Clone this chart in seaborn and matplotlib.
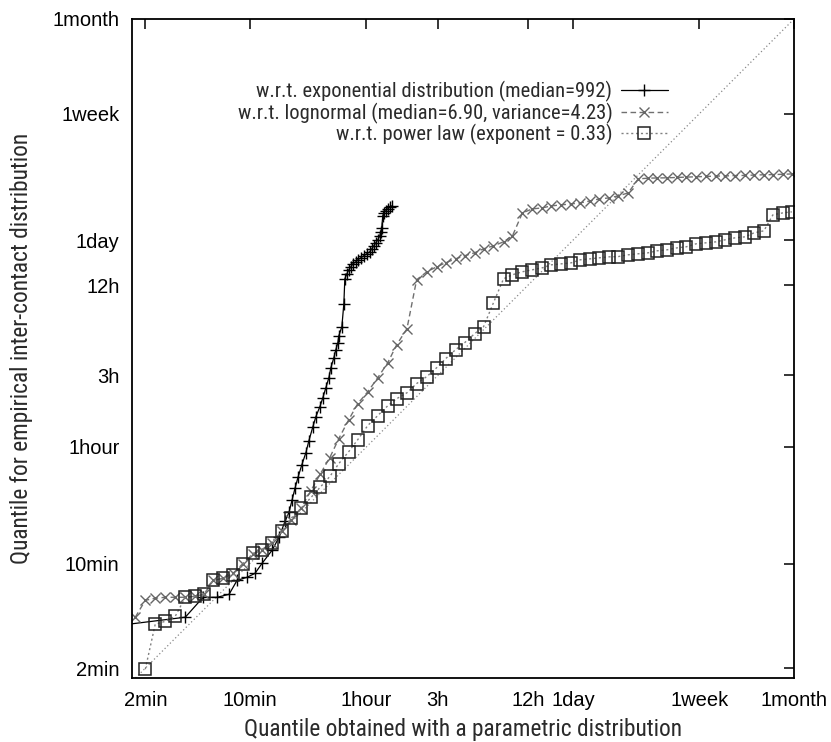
import os
import matplotlib
matplotlib.use("Agg")
import matplotlib.pyplot as plt
from matplotlib import font_manager
import seaborn as sns
import pandas as pd

# Quantiles in minutes
param_q = [1.715, 2.00, 2.33, 2.72, 3.17, 3.70, 4.31, 4.95, 5.68, 6.62, 7.72, 9.00,
           10.5, 12.05, 14.05, 16.4, 18.8, 21.9, 25.6, 29.4, 34.2, 39.3, 45.8, 52.6,
           61.3, 71.5, 83.4, 95.7, 112, 130, 152, 177, 203, 237, 272, 317, 364, 424,
           495, 568, 662, 772, 900, 1034, 1205, 1405, 1613, 1881, 2160, 2518, 2891,
           3370, 3930, 4582, 5260, 6134, 7152, 8212, 9572, 11160, 13014, 14940, 17420,
           20310, 23320, 27180, 31220, 36400, 41790]

lognormal_emp = [4.38, 5.68, 5.86, 5.95, 5.95, 5.95, 6.04, 6.23, 7.72, 7.96, 8.60, 10.0,
                 11.5, 12.4, 13.8, 16.4, 19.4, 23.3, 30.7, 39.3, 51.0, 68.3, 91.4, 117,
                 140, 174, 219, 289, 369, 784, 886, 957, 1018, 1082, 1134, 1187, 1262,
                 1321, 1405, 1541, 2193, 2332, 2368, 2442, 2480, 2518, 2557, 2637, 2719,
                 2761, 2847, 2981, 3695, 3740, 3750, 3760, 3780, 3800, 3820, 3840, 3860,
                 3870, 3890, 3900, 3920, 3940, 3950, 3970, 3990]

powerlaw_emp = [1.97, 3.93, 4.11, 4.44, 5.95, 6.04, 6.23, 7.72, 7.96, 8.34, 10.0, 11.7,
                12.4, 13.8, 16.4, 20.0, 23.3, 27.6, 32.2, 38.1, 46.5, 55.9, 67.2, 83.4,
                97.2, 113, 126, 138, 159, 177, 203, 233, 268, 298, 342, 381, 551, 796,
                847, 887, 914, 943, 987, 1002, 1018, 1066, 1082, 1099, 1116, 1120, 1151,
                1169, 1187, 1224, 1243, 1281, 1301, 1363, 1384, 1405, 1449, 1494, 1517,
                1613, 1664, 2127, 2193, 2227]

expo_param = [1.362, 3.70, 4.87, 6.04, 7.26, 8.21, 9.57, 10.82, 12.05, 14.05, 15.65,
              17.15, 18.24, 19.10, 20.0, 20.94, 22.26, 23.68, 24.80, 26.37, 27.61, 29.36,
              30.74, 32.19, 33.71, 34.76, 36.39, 37.52, 38.69, 39.29, 41.15, 42.43, 43.09,
              44.44, 45.81, 47.24, 48.72, 51.02, 52.60, 55.08, 57.68, 60.40, 63.25, 65.22,
              67.24, 69.34, 71.50, 73.73, 74.87, 76.03, 77.21, 78.40, 80.85, 83.36, 85.96,
              88.64]
expo_emp = [3.87, 4.38, 5.95, 5.95, 6.23, 7.72, 8.09, 8.60, 10.02, 12.24, 14.94, 19.10,
            21.92, 26.37, 31.70, 37.52, 45.81, 55.08, 66.21, 82.11, 95.73, 111.6, 128.2,
            149.4, 174.2, 203.1, 236.8, 267.8, 298.2, 331.9, 381.0, 542.4, 796.2, 859.6,
            914.1, 957.3, 1002, 1033, 1066, 1099, 1134, 1169, 1206, 1262, 1321, 1383,
            1449, 1541, 1639, 1742, 2094, 2193, 2261, 2332, 2404, 2442]

tick_values = [2, 10, 60, 180, 720, 1440, 10080, 43200]
tick_labels = ["2min", "10min", "1hour", "3h", "12h", "1day", "1week", "1month"]

labels = ["w.r.t. exponential distribution (median=992)",
          "w.r.t. lognormal (median=6.90, variance=4.23)",
          "w.r.t. power law (exponent = 0.33)"]
xlabel = "Quantile obtained with a parametric distribution"
ylabel = "Quantile for empirical inter-contact distribution"

sns.set_theme(style="white")
plt.rcParams["font.family"] = ["Liberation Sans", "DejaVu Sans"]


def narrow_face():
    """Path of a condensed sans face, best match first."""
    wanted = ["LiberationSansNarrow-Regular", "RobotoCondensed-Regular",
              "NotoSans-CondensedRegular", "NotoSans-Condensed",
              "DejaVuSansCondensed"]
    files = {os.path.splitext(os.path.basename(f.fname))[0]: f.fname
             for f in font_manager.fontManager.ttflist}
    for w in wanted:
        if w in files:
            return files[w]
    return None


face = narrow_face()


def font(size):
    if face:
        return font_manager.FontProperties(fname=face, size=size)
    return font_manager.FontProperties(family="Liberation Sans", size=size)


fig = plt.figure(figsize=(8.31, 7.42), dpi=100)
renderer = fig.canvas.get_renderer()


def fitted(text, width_px):
    """Font whose rendering of `text` spans about width_px pixels."""
    probe = fig.text(0, 0, text, fontproperties=font(20))
    w = probe.get_window_extent(renderer).width
    probe.remove()
    return font(20 * width_px / w)


ax = fig.add_axes([132 / 831, 64 / 742, 662 / 831, 659 / 742])

df_exp = pd.DataFrame({"param": expo_param, "emp": expo_emp})
df_log = pd.DataFrame({"param": param_q, "emp": lognormal_emp})
df_pow = pd.DataFrame({"param": param_q[1:], "emp": powerlaw_emp})

sns.lineplot(data=df_exp, x="param", y="emp", ax=ax, sort=False, estimator=None,
             color="black", lw=0.9, linestyle="-", marker="+", markersize=8.5,
             markeredgewidth=1.0, markeredgecolor="black")
sns.lineplot(data=df_log, x="param", y="emp", ax=ax, sort=False, estimator=None,
             color="#707070", lw=1.0, linestyle=(0, (4, 2.5)), marker="x", markersize=7,
             markeredgewidth=1.0, markeredgecolor="#666666")
sns.lineplot(data=df_pow, x="param", y="emp", ax=ax, sort=False, estimator=None,
             color="#808080", lw=1.0, linestyle=(0, (1.5, 2)), marker="s", markersize=8,
             markerfacecolor="none", markeredgewidth=1.1, markeredgecolor="#222222")

ax.set_xscale("log")
ax.set_yscale("log")
ax.set_xlim(1.63, 43200)
ax.set_ylim(1.72, 43200)

# y = x reference
ax.axline((1, 1), (10, 10), color="#888888", lw=0.9, linestyle=(0, (1, 2)), zorder=1)

ax.set_xticks(tick_values)
ax.set_xticklabels(tick_labels)
ax.set_yticks(tick_values)
ax.set_yticklabels(tick_labels)
ax.minorticks_off()
ax.tick_params(which="major", direction="in", length=7, width=1.1, colors="black",
               labelsize=14.5, top=True, right=True, pad=9)

for s in ax.spines.values():
    s.set_visible(True)
    s.set_color("black")
    s.set_linewidth(1.3)

label_font = fitted(xlabel, 438)
ax.set_xlabel(xlabel, fontproperties=label_font, color="#2a2a2a", labelpad=6)
ax.set_ylabel(ylabel, fontproperties=label_font, color="#2a2a2a", labelpad=14)

leg_font = fitted(labels[0], 355)
handles = ax.get_lines()[:3]
leg = ax.legend(handles, labels, markerfirst=False, frameon=False, loc="upper right",
                bbox_to_anchor=(668 / 831, 1 - 81 / 742), bbox_transform=fig.transFigure,
                borderaxespad=0, borderpad=0, handlelength=2.3, handletextpad=0.4,
                labelspacing=0.02, numpoints=1, prop=leg_font)
for t in leg.get_texts():
    t.set_color("#2a2a2a")

fig.savefig("out.png", dpi=100)
